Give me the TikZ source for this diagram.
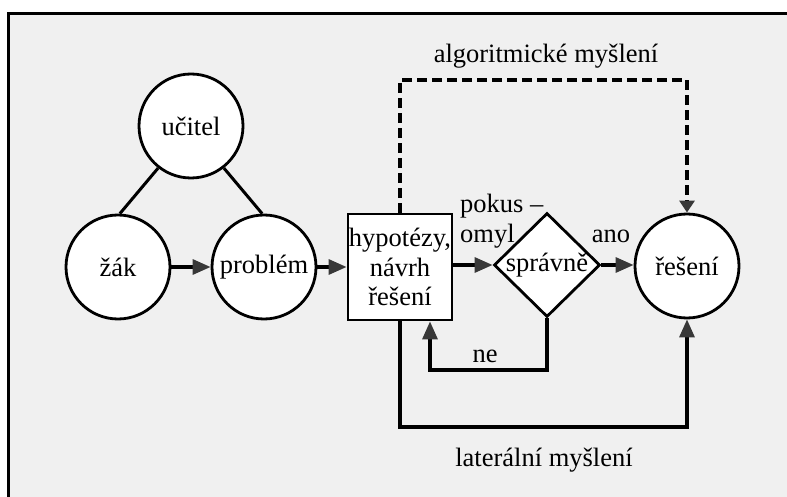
\documentclass[tikz,border=0pt]{standalone}
\usepackage{fontspec}
\setmainfont{Liberation Serif}
\usetikzlibrary{shapes.geometric,arrows.meta}
\begin{document}
\begin{tikzpicture}[x=1pt,y=-1pt,
  txt/.style={font=\fontsize{26.5}{29.5}\selectfont, inner sep=0pt},
  circ/.style={circle, draw, line width=2.8pt, fill=white, minimum size=104pt, inner sep=0pt, txt},
  boxn/.style={rectangle, draw, line width=2.8pt, fill=white, minimum width=104pt, minimum height=106pt, inner sep=0pt, align=center, txt},
  dia/.style={diamond, draw, line width=2.8pt, fill=white, minimum width=106pt, minimum height=104pt, inner sep=0pt},
  link/.style={line width=3pt},
  arr/.style={line width=3.2pt, -{Triangle[length=18pt,width=15pt,fill=black!78,color=black!78]}},
  darr/.style={line width=3.2pt, dash pattern=on 10pt off 5pt, -{Triangle[length=12pt,width=15pt,fill=black!78,color=black!78]}},
  lbl/.style={txt, anchor=base}]
\useasboundingbox (0,0) rectangle (787,497);
\fill[white] (0,0) rectangle (787,497);
\fill[black!6] (8,14) rectangle (787,497);
\draw[line width=3pt] (8,497) -- (8,14) -- (787,14);

\node[circ] (uc) at (191,126) {učitel};
\node[circ] (zak) at (118,267) {žák};
\node[circ] (prob) at (264,267) {problém};
\node[boxn] (box) at (400,267) {hypotézy,\\návrh\\řešení};
\node[dia, label={[txt]center:správně}] (sp) at (547,265) {};
\node[circ] (sol) at (687,266) {řešení};

\coordinate (nec) at (430,370);
\coordinate (dtop) at (687,80);
\coordinate (lbot) at (687,427);

\draw[link] (uc.232) -- (zak.88);
\draw[link] (uc.308) -- (prob.92);
\draw[arr] (zak) -- (prob);
\draw[arr] (prob) -- (box);
\draw[arr] (box.east |- sp.west) -- (sp.west);
\draw[arr] (sp.east) -- (sp.east -| sol.west);
\draw[arr] (sp.south) |- (nec) -- (nec |- box.south);
\draw[darr] (box.north) |- (dtop) -- (sol.north);
\draw[arr] (box.south) |- (lbot) -- (sol.south);

\node[lbl] (alg) at (546,63) {algoritmické myšlení};
\node[lbl] (lat) at (544,466) {laterální myšlení};
\node[lbl] (ne) at (485,362) {ne};
\node[lbl] (ano) at (611,243) {ano};
\node[txt, anchor=base west] (pok) at (460,213) {pokus –};
\node[txt, anchor=base west] (omyl) at (460,243) {omyl};
\end{tikzpicture}
\end{document}
